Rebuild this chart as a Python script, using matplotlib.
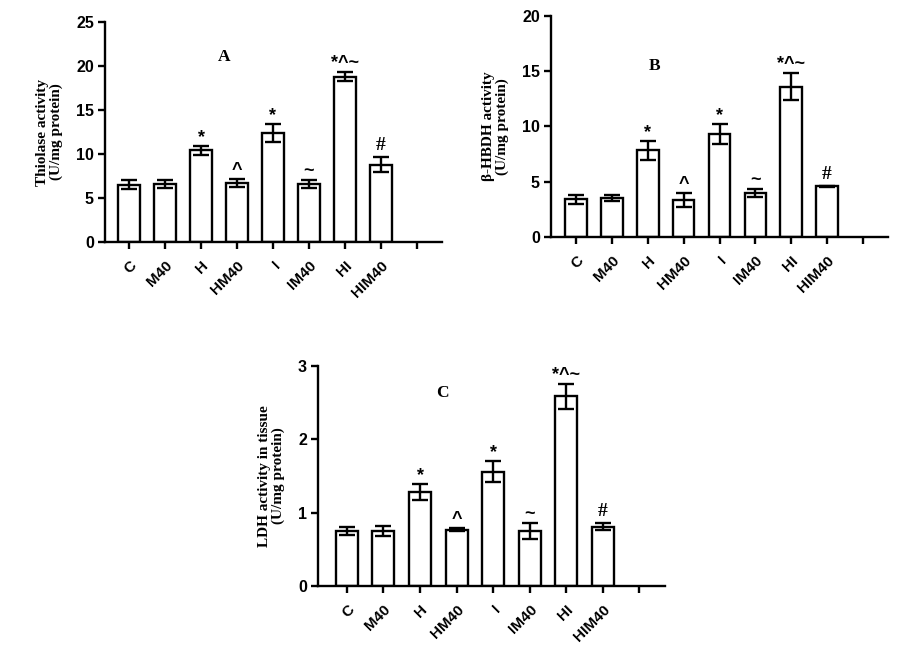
import matplotlib
matplotlib.use("Agg")
import matplotlib.pyplot as plt

groups = ["C", "M40", "H", "HM40", "I", "IM40", "HI", "HIM40"]
sig = ["", "", "*", "^", "*", "~", "*^~", "#"]

thiolase = [6.5, 6.6, 10.4, 6.75, 12.4, 6.6, 18.8, 8.8]
thiolase_err = [0.5, 0.45, 0.5, 0.45, 1.0, 0.45, 0.5, 0.85]

hbdh = [3.43, 3.52, 7.83, 3.34, 9.34, 3.98, 13.6, 4.6]
hbdh_err = [0.4, 0.25, 0.85, 0.6, 0.9, 0.4, 1.2, 0.05]

ldh = [0.75, 0.75, 1.28, 0.77, 1.56, 0.75, 2.59, 0.81]
ldh_err = [0.05, 0.065, 0.11, 0.015, 0.14, 0.11, 0.17, 0.05]

SANS = "Liberation Sans"
SERIF = "Liberation Serif"

fig = plt.figure(figsize=(9.04, 6.48), dpi=100)

def panel(rect, vals, errs, ylabel, yticks, ymax, letter, letter_pos, xleft):
    ax = fig.add_axes(rect)
    x = list(range(len(groups)))
    ax.bar(x, vals, width=0.6, color="white", edgecolor="black", linewidth=1.7, zorder=2)
    ax.errorbar(x, vals, yerr=errs, fmt="none", ecolor="black", elinewidth=1.7,
                capsize=6, capthick=1.7, zorder=3)
    ax.set_xlim(xleft, 8.7)
    ax.set_ylim(0, ymax)
    ax.set_yticks(yticks)
    ax.set_xticks(list(range(len(groups) + 1)))
    ax.set_xticklabels(groups + [""], rotation=45, ha="right", rotation_mode="anchor",
                       fontfamily=SANS, fontweight="bold", fontsize=11)
    for t in ax.get_yticklabels():
        t.set_fontfamily(SANS)
        t.set_fontweight("bold")
        t.set_fontsize(11.5)
    for s in ["top", "right"]:
        ax.spines[s].set_visible(False)
    for s in ["left", "bottom"]:
        ax.spines[s].set_linewidth(1.7)
    ax.tick_params(axis="both", direction="out", width=1.7, length=5, pad=3)
    ax.tick_params(axis="x", pad=7)
    ax.set_ylabel(ylabel, fontfamily=SERIF, fontweight="bold", fontsize=11,
                  labelpad=9, linespacing=1.05)
    ax.text(letter_pos[0], letter_pos[1], letter, fontfamily=SERIF, fontweight="bold",
            fontsize=12.5, ha="center", va="center")
    for i, (v, e, s) in enumerate(zip(vals, errs, sig)):
        if not s:
            continue
        if s == "#":
            ax.annotate(s, xy=(i, v + e), xytext=(0, 2), textcoords="offset points",
                        ha="center", va="bottom", fontfamily=SERIF, fontweight="bold",
                        fontsize=14)
        else:
            ax.annotate(s, xy=(i, v + e), xytext=(0, 0), textcoords="offset points",
                        ha="center", va="bottom", fontfamily=SANS, fontweight="bold",
                        fontsize=13)
    return ax

panel([105/904, 1-242/648, 337/904, 220/648], thiolase, thiolase_err,
      "Thiolase activity\n(U/mg protein)", [0, 5, 10, 15, 20, 25], 25,
      "A", (2.65, 21.0), -0.67)
panel([551/904, 1-237/648, 337/904, 221/648], hbdh, hbdh_err,
      "β-HBDH activity\n(U/mg protein)", [0, 5, 10, 15, 20], 20,
      "B", (2.2, 15.5), -0.7)
panel([318/904, 1-586/648, 347/904, 220/648], ldh, ldh_err,
      "LDH activity in tissue\n(U/mg protein)", [0, 1, 2, 3], 3,
      "C", (2.6, 2.63), -0.79)

fig.savefig("out.png", dpi=100)
